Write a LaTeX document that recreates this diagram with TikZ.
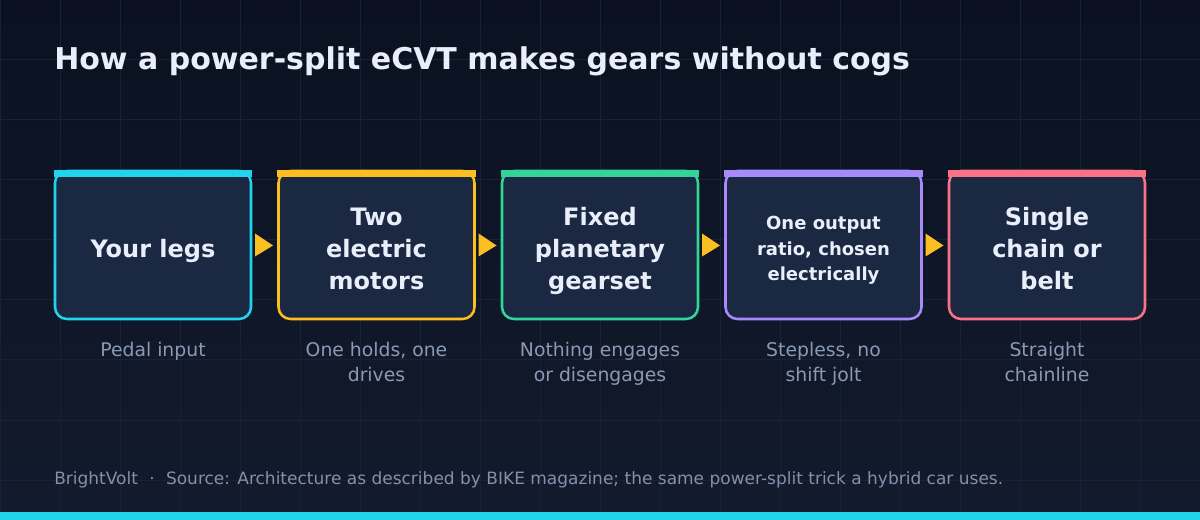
\documentclass[tikz,border=0pt]{standalone}
\usepackage{fontspec}
\setmainfont{DejaVu Sans}
\usetikzlibrary{calc}
\definecolor{bgtop}{HTML}{0B1120}
\definecolor{bgbot}{HTML}{121B2D}
\definecolor{gridc}{HTML}{17223A}
\definecolor{boxfill}{HTML}{1B2841}
\definecolor{titlec}{HTML}{E8EEFA}
\definecolor{subc}{HTML}{8B9AB3}
\definecolor{footc}{HTML}{8391A8}
\definecolor{ccyan}{HTML}{22D3EE}
\definecolor{camber}{HTML}{FBBF24}
\definecolor{cgreen}{HTML}{34D399}
\definecolor{cpurple}{HTML}{A78BFA}
\definecolor{crose}{HTML}{FB7185}
\tikzset{
  stage/.style={draw=#1, fill=boxfill, line width=1.9pt, rounded corners=9pt,
    minimum width=147pt, minimum height=111pt, inner sep=0pt, outer sep=0pt},
  maintext/.style={text=titlec, align=center, inner sep=0pt, anchor=north,
    font=\bfseries\fontsize{18pt}{23.8pt}\selectfont},
  smalltext/.style={text=titlec, align=center, inner sep=0pt, anchor=north,
    font=\bfseries\fontsize{13.5pt}{19.4pt}\selectfont},
  subtext/.style={text=subc, align=center, inner sep=0pt, anchor=north,
    font=\fontsize{14.1pt}{18.4pt}\selectfont},
  arrowtri/.style={fill=camber},
}
\newcommand{\topbar}[2]{%
  \fill[#2] ($(#1.north west)+(-1.25,-1.25)$) rectangle ($(#1.north east)+(1.25,5.75)$);}
\newcommand{\tri}[1]{%
  \fill[arrowtri] ($(#1.east)+(4,-11.5)$) -- ($(#1.east)+(22,0.5)$) -- ($(#1.east)+(4,11.5)$) -- cycle;}
\begin{document}
\begin{tikzpicture}[x=0.75pt,y=-0.75pt]
\useasboundingbox (0,0) rectangle (1200,520);
\shade[top color=bgtop, bottom color=bgbot] (0,0) rectangle (1200,520);
\foreach \gx in {0,60,...,1200} \draw[gridc, line width=0.75pt] (\gx,0) -- (\gx,520);
\foreach \gy in {0,60,...,480} \draw[gridc, line width=0.75pt] (0,\gy) -- (1200,\gy);
\fill[ccyan] (0,512) rectangle (1200,520);

\node[anchor=base west, inner sep=0pt, text=titlec, font=\bfseries\fontsize{22.5pt}{27pt}\selectfont] (title) at (54,70) {How a power-split eCVT makes gears without cogs};

\node[stage=ccyan] (s1) at (153,245) {};
\node[stage=camber] (s2) at (376.5,245) {};
\node[stage=cgreen] (s3) at (600,245) {};
\node[stage=cpurple] (s4) at (823.5,245) {};
\node[stage=crose] (s5) at (1047,245) {};
\topbar{s1}{ccyan}
\topbar{s2}{camber}
\topbar{s3}{cgreen}
\topbar{s4}{cpurple}
\topbar{s5}{crose}
\tri{s1}
\tri{s2}
\tri{s3}
\tri{s4}

\node[maintext] (t1) at (153,239.5) {Your legs};
\node[maintext] (t2) at (376.5,208.2) {Two\\electric\\motors};
\node[maintext] (t3) at (600,207.5) {Fixed\\planetary\\gearset};
\node[smalltext] (t4) at (823.5,215.6) {One output\\ratio, chosen\\electrically};
\node[maintext] (t5) at (1047,207.5) {Single\\chain or\\belt};

\node[subtext] (u1) at (153,342) {Pedal input};
\node[subtext] (u2) at (376.5,342) {One holds, one\\drives};
\node[subtext] (u3) at (600,342) {Nothing engages\\or disengages};
\node[subtext] (u4) at (823.5,342) {Stepless, no\\shift jolt};
\node[subtext] (u5) at (1047,342) {Straight\\chainline};

\node[anchor=base west, inner sep=0pt, text=footc, font=\fontsize{12.75pt}{15pt}\selectfont] (foot) at (54,484) {BrightVolt\hspace{8.5pt}·\hspace{8.5pt}Source: Architecture as described by BIKE magazine; the same power-split trick a hybrid car uses.};
\end{tikzpicture}
\end{document}
